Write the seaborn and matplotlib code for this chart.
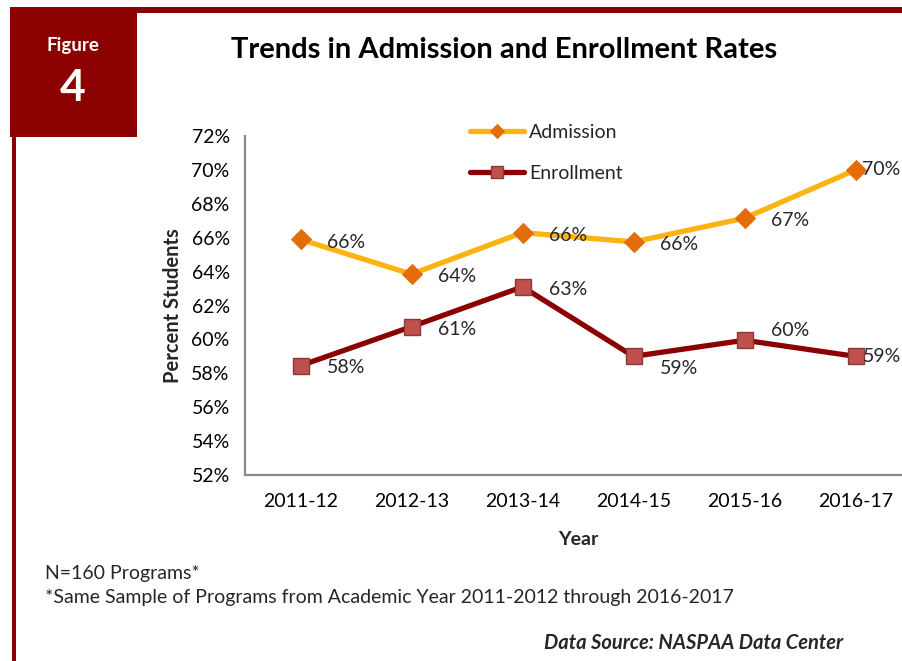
import matplotlib
matplotlib.use('Agg')
import matplotlib.pyplot as plt
import seaborn as sns
import pandas as pd
from matplotlib.patches import Rectangle
from matplotlib.ticker import FuncFormatter

# data
years = ['2011-12', '2012-13', '2013-14', '2014-15', '2015-16', '2016-17']
admission = [65.9, 63.85, 66.3, 65.75, 67.15, 70.0]
enrollment = [58.45, 60.75, 63.1, 59.0, 59.95, 59.0]
admission_labels = ['66%', '64%', '66%', '66%', '67%', '70%']
enrollment_labels = ['58%', '61%', '63%', '59%', '60%', '59%']
y_ticks = [52, 54, 56, 58, 60, 62, 64, 66, 68, 70, 72]

sns.set_theme(style='white')
plt.rcParams['font.family'] = ['Lato', 'DejaVu Sans']

df = pd.DataFrame({'year': years, 'Admission': admission, 'Enrollment': enrollment})

fig = plt.figure(figsize=(9.02, 6.61), dpi=100)
W, H = 902, 661

# frame decoration
red = '#8b0000'
fig.patches.append(Rectangle((10 / W, 1 - 137 / H), 127 / W, 130 / H, transform=fig.transFigure,
                             facecolor=red, edgecolor='none', zorder=0))
fig.patches.append(Rectangle((10 / W, 1 - 13 / H), 892 / W, 6 / H, transform=fig.transFigure,
                             facecolor=red, edgecolor='none', zorder=0))
fig.patches.append(Rectangle((12 / W, 0), 4 / W, 1 - 137 / H, transform=fig.transFigure,
                             facecolor=red, edgecolor='none', zorder=0))
fig.text(73 / W, 1 - 45 / H, 'Figure', color='white', fontsize=13.5, fontweight='bold',
         ha='center', va='center')
fig.text(73 / W, 1 - 88 / H, '4', color='white', fontsize=32, fontweight='bold',
         ha='center', va='center')
fig.text(504 / W, 1 - 50 / H, 'Trends in Admission and Enrollment Rates', fontsize=21,
         fontweight='bold', ha='center', va='center', color='black')

ax = fig.add_axes([245 / W, 1 - 475 / H, 666 / W, 339 / H])

sns.lineplot(data=df, x='year', y='Admission', ax=ax, color='#ffb311', linewidth=3.8,
             marker='D', markersize=10, markerfacecolor='#e46c0a', markeredgecolor='#e46c0a',
             label='Admission', sort=False)
sns.lineplot(data=df, x='year', y='Enrollment', ax=ax, color='#8b0000', linewidth=3.8,
             marker='s', markersize=12, markerfacecolor='#c0504d', markeredgecolor='#8c3836',
             markeredgewidth=1, label='Enrollment', sort=False)

ax.set_xlim(-0.5, 5.5)
ax.set_ylim(52, 72)
ax.set_yticks(y_ticks)
ax.yaxis.set_major_formatter(FuncFormatter(lambda v, p: f'{v:.0f}%'))
ax.tick_params(axis='both', length=0, labelsize=14, colors='black')
ax.tick_params(axis='x', pad=13)
ax.tick_params(axis='y', pad=11)
for s in ['top', 'right']:
    ax.spines[s].set_visible(False)
for s in ['left', 'bottom']:
    ax.spines[s].set_color('#898989')
    ax.spines[s].set_linewidth(1.6)
ax.set_xlabel('Year', fontsize=14, fontweight='bold', labelpad=15)
ax.set_ylabel('Percent Students', fontsize=14.5, fontweight='bold', labelpad=6)

# data labels
adm_off = [(19, -2), (19, -2), (19, -2), (19, -2), (19, -2), (5, 0)]
enr_off = [(19, -1), (19, -2), (19, -2), (19, -9), (19, 7), (5, 0)]
for i in range(len(years)):
    ax.annotate(admission_labels[i], (i, admission[i]), xytext=adm_off[i],
                textcoords='offset points', fontsize=14, va='center', ha='left')
    ax.annotate(enrollment_labels[i], (i, enrollment[i]), xytext=enr_off[i],
                textcoords='offset points', fontsize=14, va='center', ha='left')

ax.legend(loc='center left', bbox_to_anchor=(470 / W, 1 - 153 / H),
          bbox_transform=fig.transFigure, frameon=False, fontsize=14,
          handlelength=2.8, handletextpad=0.25, labelspacing=1.25,
          markerscale=0.7, borderpad=0, borderaxespad=0)

fig.text(45 / W, 1 - 573 / H, 'N=160 Programs*', fontsize=14, va='center', ha='left')
fig.text(45 / W, 1 - 598 / H, '*Same Sample of Programs from Academic Year 2011-2012 through 2016-2017',
         fontsize=14, va='center', ha='left')
fig.text(843 / W, 1 - 643 / H, 'Data Source: NASPAA Data Center', fontsize=14.5,
         fontweight='bold', fontstyle='italic', va='center', ha='right')

fig.savefig('out.png', dpi=100)
